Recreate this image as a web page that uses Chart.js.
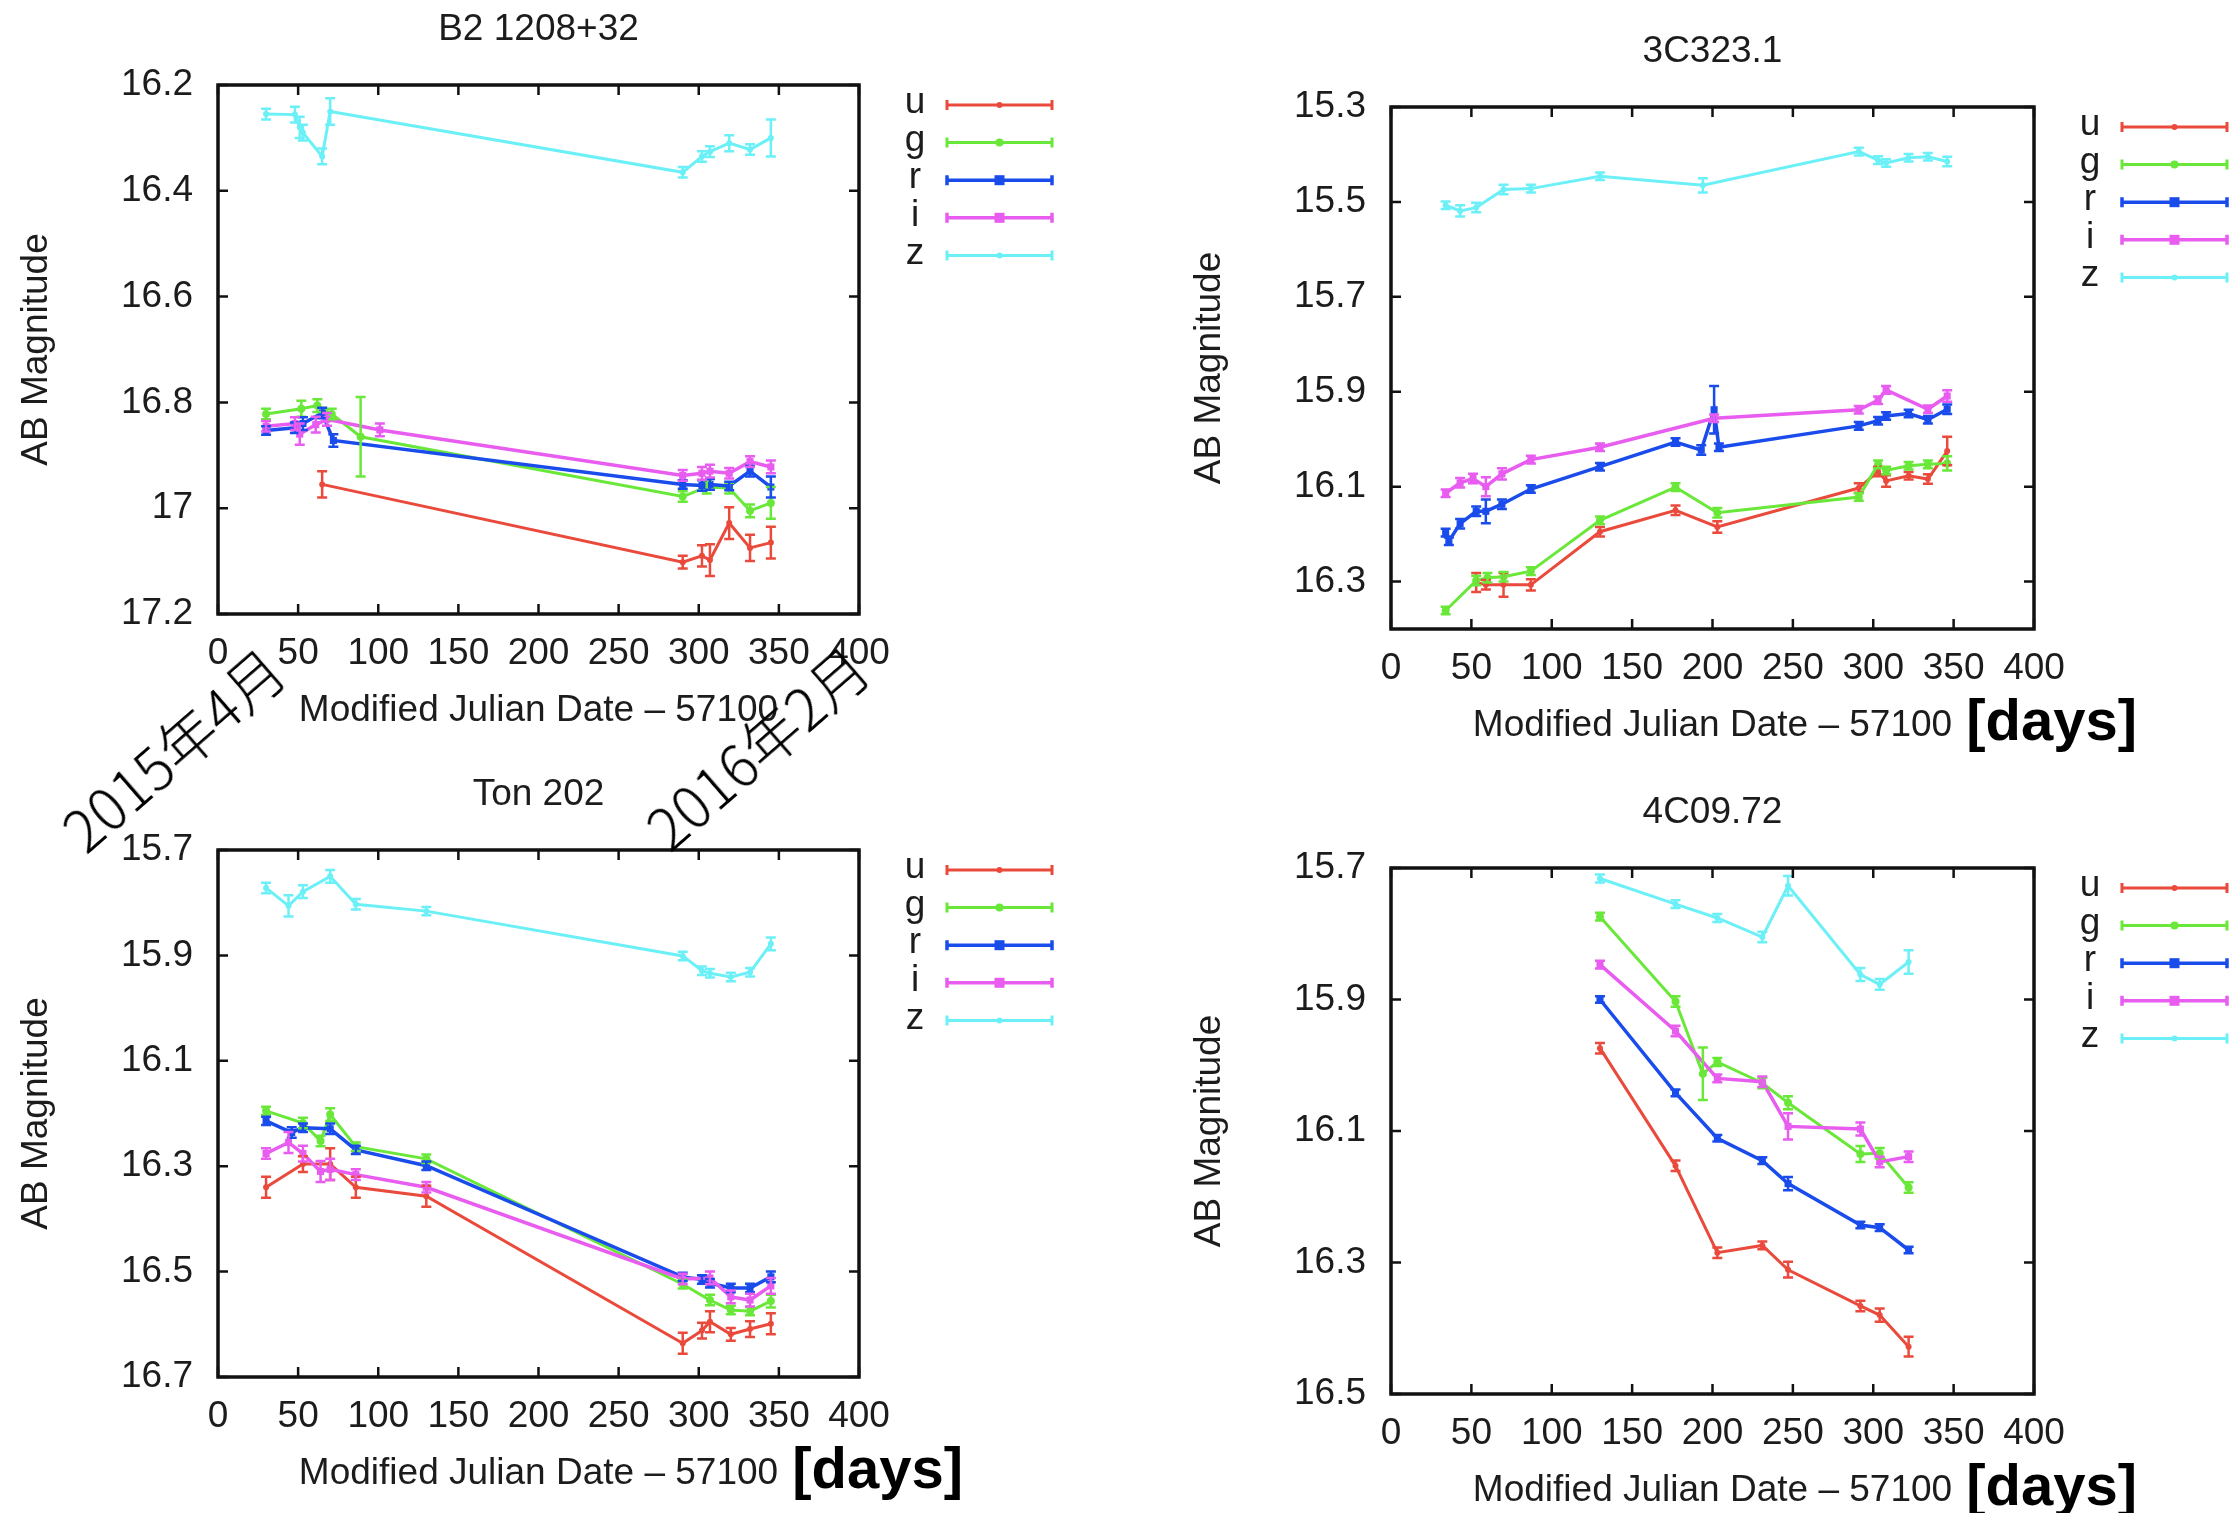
<!DOCTYPE html>
<html>
<head>
<meta charset="utf-8">
<script src="https://cdn.jsdelivr.net/npm/chart.js@4.4.1/dist/chart.umd.min.js"></script>
<style>
html, body { margin: 0; padding: 0; background: #fff; }
body { width: 2230px; height: 1513px; position: relative; overflow: hidden; }
canvas { position: absolute; }
.note {
    position: absolute; font-family: "Noto Sans CJK JP", sans-serif; font-weight: 300; font-size: 58px; color: #000;
    transform: translate(-50%, -50%) rotate(-41deg); white-space: nowrap; line-height: 1;
}
</style>
</head>
<body>
<canvas id="c1" width="1115" height="760" style="left:0;top:0"></canvas>
<canvas id="c2" width="1115" height="760" style="left:1115px;top:0"></canvas>
<canvas id="c3" width="1115" height="753" style="left:0;top:760px"></canvas>
<canvas id="c4" width="1115" height="753" style="left:1115px;top:760px"></canvas>
<div class="note" style="left:172px;top:748px">2015年4月</div>
<div class="note" style="left:756px;top:746px">2016年2月</div>
<script>
const bands = ['u', 'g', 'r', 'i', 'z'];
const bandColors = ['#ea4a3c', '#6ae83a', '#1a4cec', '#e85cf0', '#6cf0f8'];
const xTicks = [0, 50, 100, 150, 200, 250, 300, 350, 400];

// B2 1208+32
const b2_u_day = [65, 290, 302, 307, 319, 332, 345];
const b2_u_mag = [16.955, 17.102, 17.09, 17.098, 17.028, 17.075, 17.065];
const b2_u_err = [0.025, 0.012, 0.02, 0.03, 0.03, 0.025, 0.03];
const b2_g_day = [30, 52, 62, 71, 89, 290, 305, 319, 332, 345];
const b2_g_mag = [16.822, 16.812, 16.806, 16.822, 16.865, 16.978, 16.96, 16.962, 17.005, 16.99];
const b2_g_err = [0.01, 0.015, 0.012, 0.01, 0.075, 0.01, 0.012, 0.01, 0.012, 0.03];
const b2_r_day = [30, 48, 53, 65, 72, 290, 302, 307, 319, 332, 345];
const b2_r_mag = [16.853, 16.848, 16.84, 16.82, 16.872, 16.955, 16.957, 16.955, 16.958, 16.93, 16.96];
const b2_r_err = [0.008, 0.01, 0.012, 0.01, 0.012, 0.008, 0.01, 0.01, 0.008, 0.01, 0.02];
const b2_i_day = [30, 48, 51, 61, 68, 101, 290, 302, 307, 319, 332, 345];
const b2_i_mag = [16.845, 16.84, 16.86, 16.842, 16.832, 16.852, 16.938, 16.934, 16.93, 16.934, 16.912, 16.922];
const b2_i_err = [0.01, 0.012, 0.02, 0.015, 0.012, 0.012, 0.01, 0.012, 0.012, 0.01, 0.01, 0.012];
const b2_z_day = [30, 48, 51, 53, 65, 70, 290, 302, 307, 319, 332, 345];
const b2_z_mag = [16.255, 16.256, 16.28, 16.29, 16.335, 16.25, 16.365, 16.335, 16.326, 16.31, 16.322, 16.30];
const b2_z_err = [0.01, 0.015, 0.02, 0.015, 0.015, 0.025, 0.01, 0.01, 0.01, 0.015, 0.01, 0.035];
const b2_yTicks = [16.2, 16.4, 16.6, 16.8, 17, 17.2];
const b2_yLabels = ['16.2', '16.4', '16.6', '16.8', '17', '17.2'];

// 3C323.1
const c3_u_day = [53, 59, 70, 87, 130, 177, 203, 291, 303, 308, 322, 334, 346];
const c3_u_mag = [16.302, 16.307, 16.307, 16.307, 16.195, 16.15, 16.185, 16.103, 16.068, 16.088, 16.077, 16.084, 16.025];
const c3_u_err = [0.02, 0.01, 0.025, 0.012, 0.01, 0.01, 0.012, 0.01, 0.01, 0.012, 0.008, 0.01, 0.03];
const c3_g_day = [34, 53, 60, 70, 87, 130, 177, 203, 291, 303, 308, 322, 334, 346];
const c3_g_mag = [16.361, 16.298, 16.292, 16.29, 16.278, 16.171, 16.101, 16.155, 16.122, 16.053, 16.066, 16.056, 16.053, 16.051];
const c3_g_err = [0.008, 0.01, 0.01, 0.01, 0.008, 0.008, 0.008, 0.01, 0.008, 0.008, 0.008, 0.008, 0.008, 0.015];
const c3_r_day = [34, 36, 43, 53, 59, 69, 87, 130, 177, 193, 201, 204, 291, 303, 308, 322, 334, 346];
const c3_r_mag = [16.197, 16.215, 16.178, 16.152, 16.152, 16.137, 16.105, 16.058, 16.006, 16.023, 15.938, 16.017, 15.972, 15.961, 15.951, 15.946, 15.959, 15.937];
const c3_r_err = [0.008, 0.008, 0.01, 0.01, 0.025, 0.01, 0.008, 0.008, 0.008, 0.01, 0.05, 0.008, 0.008, 0.008, 0.008, 0.008, 0.008, 0.01];
const c3_i_day = [34, 43, 51, 59, 69, 87, 130, 201, 291, 303, 308, 334, 346];
const c3_i_mag = [16.114, 16.092, 16.083, 16.1, 16.073, 16.043, 16.017, 15.956, 15.938, 15.918, 15.896, 15.937, 15.909];
const c3_i_err = [0.008, 0.01, 0.01, 0.02, 0.012, 0.008, 0.008, 0.008, 0.008, 0.008, 0.008, 0.008, 0.012];
const c3_z_day = [34, 43, 53, 70, 87, 130, 194, 291, 303, 308, 322, 334, 346];
const c3_z_mag = [15.507, 15.519, 15.512, 15.474, 15.472, 15.446, 15.465, 15.394, 15.412, 15.418, 15.407, 15.405, 15.415];
const c3_z_err = [0.008, 0.012, 0.01, 0.01, 0.008, 0.008, 0.015, 0.008, 0.008, 0.008, 0.008, 0.008, 0.01];
const c3_yTicks = [15.3, 15.5, 15.7, 15.9, 16.1, 16.3];
const c3_yLabels = ['15.3', '15.5', '15.7', '15.9', '16.1', '16.3'];

// Ton 202
const ton_u_day = [30, 53, 70, 86, 130, 290, 302, 307, 320, 332, 345];
const ton_u_mag = [16.34, 16.296, 16.296, 16.34, 16.357, 16.636, 16.612, 16.595, 16.619, 16.609, 16.599];
const ton_u_err = [0.02, 0.015, 0.03, 0.02, 0.02, 0.02, 0.015, 0.02, 0.012, 0.015, 0.02];
const ton_g_day = [30, 53, 64, 70, 86, 130, 290, 307, 320, 332, 345];
const ton_g_mag = [16.195, 16.218, 16.252, 16.202, 16.263, 16.286, 16.524, 16.554, 16.573, 16.575, 16.556];
const ton_g_err = [0.008, 0.01, 0.01, 0.012, 0.008, 0.008, 0.008, 0.01, 0.008, 0.008, 0.012];
const ton_r_day = [30, 46, 53, 70, 86, 130, 290, 302, 307, 320, 332, 345];
const ton_r_mag = [16.214, 16.236, 16.227, 16.229, 16.269, 16.299, 16.51, 16.515, 16.522, 16.531, 16.531, 16.51];
const ton_r_err = [0.008, 0.01, 0.008, 0.01, 0.008, 0.008, 0.008, 0.008, 0.008, 0.008, 0.008, 0.01];
const ton_i_day = [30, 44, 53, 64, 70, 86, 130, 290, 307, 320, 332, 345];
const ton_i_mag = [16.276, 16.255, 16.276, 16.31, 16.306, 16.316, 16.34, 16.514, 16.512, 16.548, 16.554, 16.527];
const ton_i_err = [0.01, 0.02, 0.015, 0.02, 0.02, 0.01, 0.01, 0.01, 0.012, 0.012, 0.012, 0.015];
const ton_z_day = [30, 44, 53, 70, 86, 130, 290, 302, 307, 320, 332, 345];
const ton_z_mag = [15.772, 15.806, 15.779, 15.75, 15.803, 15.816, 15.901, 15.929, 15.934, 15.941, 15.932, 15.878];
const ton_z_err = [0.01, 0.02, 0.012, 0.012, 0.01, 0.008, 0.008, 0.008, 0.008, 0.008, 0.008, 0.012];
const ton_yTicks = [15.7, 15.9, 16.1, 16.3, 16.5, 16.7];
const ton_yLabels = ['15.7', '15.9', '16.1', '16.3', '16.5', '16.7'];

// 4C09.72
const c4_u_day = [130, 177, 203, 231, 247, 292, 304, 322];
const c4_u_mag = [15.974, 16.153, 16.285, 16.274, 16.311, 16.366, 16.38, 16.428];
const c4_u_err = [0.008, 0.008, 0.008, 0.006, 0.012, 0.008, 0.01, 0.015];
const c4_g_day = [130, 177, 194, 203, 231, 247, 292, 304, 322];
const c4_g_mag = [15.774, 15.903, 16.013, 15.995, 16.027, 16.057, 16.135, 16.134, 16.186];
const c4_g_err = [0.006, 0.008, 0.04, 0.006, 0.008, 0.01, 0.012, 0.008, 0.008];
const c4_r_day = [130, 177, 203, 231, 247, 292, 304, 322];
const c4_r_mag = [15.9, 16.042, 16.111, 16.145, 16.18, 16.243, 16.247, 16.281];
const c4_r_err = [0.005, 0.005, 0.005, 0.005, 0.01, 0.005, 0.005, 0.005];
const c4_i_day = [130, 177, 203, 231, 247, 292, 304, 322];
const c4_i_mag = [15.847, 15.948, 16.02, 16.025, 16.093, 16.097, 16.147, 16.139];
const c4_i_err = [0.006, 0.008, 0.006, 0.008, 0.02, 0.01, 0.008, 0.008];
const c4_z_day = [130, 177, 203, 231, 247, 292, 304, 322];
const c4_z_mag = [15.716, 15.755, 15.776, 15.805, 15.727, 15.862, 15.877, 15.843];
const c4_z_err = [0.006, 0.006, 0.006, 0.008, 0.015, 0.01, 0.008, 0.018];
const c4_yTicks = [15.7, 15.9, 16.1, 16.3, 16.5];
const c4_yLabels = ['15.7', '15.9', '16.1', '16.3', '16.5'];

const FONT = '"Liberation Sans", Arial, sans-serif';
const TXT = '#1c1c1c';

function drawMarker(ctx, k, x, y, c) {
    ctx.fillStyle = c;
    if (k === 2 || k === 3) {
        ctx.fillRect(x - 5, y - 5, 10, 10);
    } else {
        ctx.beginPath();
        ctx.arc(x, y, k === 1 ? 4 : 3, 0, Math.PI * 2);
        ctx.fill();
    }
}

// marcos, ticks hacia dentro, barras de error, titulos y leyenda estilo gnuplot
const gnuFrame = {
    id: 'gnuFrame',
    afterDatasetsDraw(chart) {
        const ctx = chart.ctx, xs = chart.scales.x, ys = chart.scales.y, a = chart.chartArea;
        ctx.save();
        ctx.beginPath();
        ctx.rect(a.left, a.top, a.right - a.left, a.bottom - a.top);
        ctx.clip();
        chart.data.datasets.forEach((ds, k) => {
            ctx.strokeStyle = ds.borderColor;
            ctx.lineWidth = 2.5;
            ds.data.forEach((p, j) => {
                const e = ds.errors[j];
                const px = xs.getPixelForValue(p.x);
                const y1 = ys.getPixelForValue(p.y - e), y2 = ys.getPixelForValue(p.y + e);
                ctx.beginPath();
                ctx.moveTo(px, y1); ctx.lineTo(px, y2);
                ctx.moveTo(px - 5, y1); ctx.lineTo(px + 5, y1);
                ctx.moveTo(px - 5, y2); ctx.lineTo(px + 5, y2);
                ctx.stroke();
            });
        });
        ctx.restore();
    },
    afterDraw(chart, args, opts) {
        const ctx = chart.ctx, xs = chart.scales.x, ys = chart.scales.y, a = chart.chartArea;
        ctx.save();
        ctx.strokeStyle = '#111';
        ctx.lineWidth = 2.5;
        ctx.beginPath();
        xs.ticks.forEach(t => {
            const px = xs.getPixelForValue(t.value);
            ctx.moveTo(px, a.bottom); ctx.lineTo(px, a.bottom - 10);
            ctx.moveTo(px, a.top); ctx.lineTo(px, a.top + 10);
        });
        ys.ticks.forEach(t => {
            const py = ys.getPixelForValue(t.value);
            ctx.moveTo(a.left, py); ctx.lineTo(a.left + 10, py);
            ctx.moveTo(a.right, py); ctx.lineTo(a.right - 10, py);
        });
        ctx.stroke();
        ctx.lineWidth = 3.5;
        ctx.strokeRect(a.left, a.top, a.right - a.left, a.bottom - a.top);

        const cx = (a.left + a.right) / 2;
        ctx.fillStyle = TXT;
        ctx.font = '37px ' + FONT;
        ctx.textAlign = 'center';
        ctx.textBaseline = 'middle';
        ctx.fillText(opts.title, cx, a.top - 55);

        ctx.save();
        ctx.translate(a.left - 181, (a.top + a.bottom) / 2);
        ctx.rotate(-Math.PI / 2);
        ctx.fillText('AB Magnitude', 0, 0);
        ctx.restore();

        ctx.textBaseline = 'alphabetic';
        const xt = 'Modified Julian Date \u2013 57100';
        ctx.fillText(xt, cx, a.bottom + 107);
        if (opts.days) {
            const w = ctx.measureText(xt).width;
            ctx.textAlign = 'left';
            ctx.fillStyle = '#000';
            ctx.font = 'bold 58px ' + FONT;
            ctx.fillText('[days]', cx + w / 2 + 14, a.bottom + 111);
        }

        // leyenda
        ctx.font = '37px ' + FONT;
        ctx.textAlign = 'center';
        ctx.textBaseline = 'middle';
        chart.data.datasets.forEach((ds, k) => {
            const y = a.top + 20 + k * 37.6;
            const x0 = a.right + 88, x1 = a.right + 193;
            ctx.fillStyle = TXT;
            ctx.fillText(ds.label, a.right + 56, y - 2);
            ctx.strokeStyle = ds.borderColor;
            ctx.lineWidth = (k === 2 || k === 3) ? 3.5 : 3;
            ctx.beginPath();
            ctx.moveTo(x0, y); ctx.lineTo(x1, y);
            ctx.moveTo(x0, y - 5); ctx.lineTo(x0, y + 5);
            ctx.moveTo(x1, y - 5); ctx.lineTo(x1, y + 5);
            ctx.stroke();
            drawMarker(ctx, k, (x0 + x1) / 2, y, ds.borderColor);
        });
        ctx.restore();
    }
};

function buildChart(id, title, days, frame, series, yMin, yMax, yTicks, yLabels) {
    const canvas = document.getElementById(id);
    const W = canvas.width, H = canvas.height;
    return new Chart(canvas, {
        type: 'line',
        data: {
            datasets: series.map((s, k) => ({
                label: bands[k],
                data: s[0].map((d, j) => ({ x: d, y: s[1][j] })),
                errors: s[2],
                borderColor: bandColors[k],
                backgroundColor: bandColors[k],
                borderWidth: (k === 2 || k === 3) ? 3.5 : 3,
                pointStyle: (k === 2 || k === 3) ? 'rect' : 'circle',
                pointRadius: (k === 2 || k === 3) ? 5 : (k === 1 ? 4 : 3),
                pointBorderWidth: 0,
                tension: 0,
                fill: false,
                order: 5 - k
            }))
        },
        options: {
            responsive: false,
            animation: false,
            devicePixelRatio: 1,
            layout: { padding: { left: 0, top: frame.t, right: W - frame.r, bottom: 0 } },
            plugins: {
                legend: { display: false },
                title: { display: false },
                tooltip: { enabled: false },
                gnuFrame: { title: title, days: days }
            },
            scales: {
                x: {
                    type: 'linear', min: 0, max: 400,
                    grid: { display: false, drawTicks: false },
                    border: { display: false },
                    afterFit: s => { s.height = H - frame.b; },
                    afterBuildTicks: s => { s.ticks = xTicks.map(v => ({ value: v })); },
                    ticks: {
                        padding: 18, maxRotation: 0, autoSkip: false, color: TXT,
                        font: { family: FONT, size: 37 },
                        callback: v => String(v)
                    }
                },
                y: {
                    type: 'linear', reverse: true, min: yMin, max: yMax,
                    grid: { display: false, drawTicks: false },
                    border: { display: false },
                    afterFit: s => { s.width = frame.l; },
                    afterBuildTicks: s => { s.ticks = yTicks.map(v => ({ value: v })); },
                    ticks: {
                        padding: 25, autoSkip: false, color: TXT,
                        font: { family: FONT, size: 37 },
                        callback: (v, idx) => yLabels[idx]
                    }
                }
            }
        },
        plugins: [gnuFrame]
    });
}

buildChart('c1', 'B2 1208+32', false, { l: 218, r: 859, t: 85, b: 614 }, [
    [b2_u_day, b2_u_mag, b2_u_err], [b2_g_day, b2_g_mag, b2_g_err], [b2_r_day, b2_r_mag, b2_r_err],
    [b2_i_day, b2_i_mag, b2_i_err], [b2_z_day, b2_z_mag, b2_z_err]
], 16.2, 17.2, b2_yTicks, b2_yLabels);

buildChart('c2', '3C323.1', true, { l: 276, r: 919, t: 107, b: 629 }, [
    [c3_u_day, c3_u_mag, c3_u_err], [c3_g_day, c3_g_mag, c3_g_err], [c3_r_day, c3_r_mag, c3_r_err],
    [c3_i_day, c3_i_mag, c3_i_err], [c3_z_day, c3_z_mag, c3_z_err]
], 15.3, 16.4, c3_yTicks, c3_yLabels);

buildChart('c3', 'Ton 202', true, { l: 218, r: 859, t: 90, b: 617 }, [
    [ton_u_day, ton_u_mag, ton_u_err], [ton_g_day, ton_g_mag, ton_g_err], [ton_r_day, ton_r_mag, ton_r_err],
    [ton_i_day, ton_i_mag, ton_i_err], [ton_z_day, ton_z_mag, ton_z_err]
], 15.7, 16.7, ton_yTicks, ton_yLabels);

buildChart('c4', '4C09.72', true, { l: 276, r: 919, t: 108, b: 634 }, [
    [c4_u_day, c4_u_mag, c4_u_err], [c4_g_day, c4_g_mag, c4_g_err], [c4_r_day, c4_r_mag, c4_r_err],
    [c4_i_day, c4_i_mag, c4_i_err], [c4_z_day, c4_z_mag, c4_z_err]
], 15.7, 16.5, c4_yTicks, c4_yLabels);
</script>
</body>
</html>
